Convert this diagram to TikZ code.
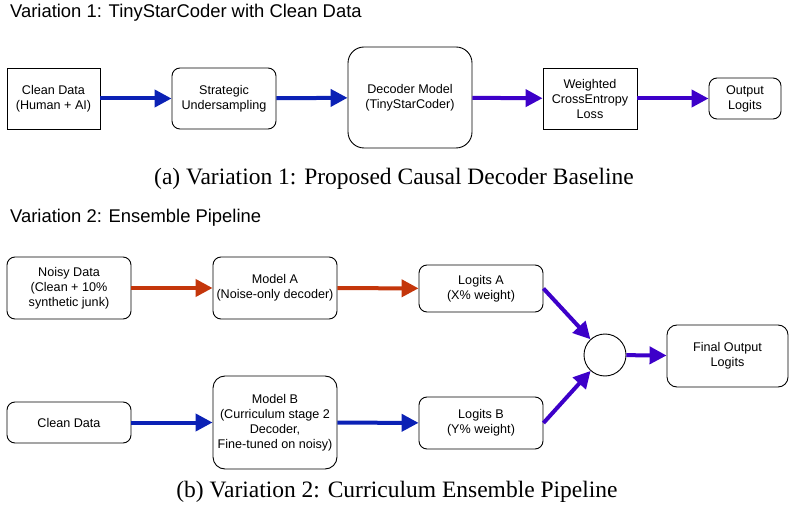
\documentclass[tikz,border=0pt]{standalone}
\usepackage{fontspec}
\setmainfont{Liberation Sans}
\newfontfamily\capfont{Liberation Serif}
\usetikzlibrary{arrows.meta}
\definecolor{flowblue}{HTML}{0B21B5}
\definecolor{flowpurple}{HTML}{3D00C9}
\definecolor{flowred}{HTML}{C4360B}
\tikzset{
  box/.style={draw=black, line width=0.9pt, align=center, inner sep=0pt,
    font=\fontsize{12.6}{15}\selectfont},
  rbox/.style={box, rounded corners=8pt},
  flow/.style={line width=4pt, -{Triangle[length=17pt,width=17pt]}},
  heading/.style={anchor=base west, inner sep=0pt, font=\fontsize{18.4}{22}\selectfont},
  caption/.style={anchor=base, inner sep=0pt, font=\capfont\fontsize{23.5}{28}\selectfont},
}
\begin{document}
\begin{tikzpicture}[x=1pt,y=-1pt]
\useasboundingbox (0,0) rectangle (789,510);

% ---- Variation 1 ----
\node[heading] (t1) at (10,18) {Variation 1: TinyStarCoder with Clean Data};

\node[box, minimum width=93, minimum height=61] (a1) at (53.5,98.5) {Clean Data\\(Human + AI)};
\node[rbox, minimum width=104, minimum height=61] (a2) at (224,98.5) {Strategic\\Undersampling};
\node[box, rounded corners=16pt, minimum width=124, minimum height=101] (a3) at (410,97.5) {Decoder Model\\(TinyStarCoder)};
\node[box, minimum width=94, minimum height=61] (a4) at (590,98.5) {Weighted\\CrossEntropy\\Loss};
\node[rbox, minimum width=72, minimum height=41] (a5) at (745,98.5) {Output\\Logits};

\draw[flow, flowblue] (a1) -- (a2);
\draw[flow, flowblue] (a2) -- (a3);
\draw[flow, flowpurple] (a3) -- (a4);
\draw[flow, flowpurple] (a4) -- (a5);

\node[caption] (c1) at (394,185) {(a) Variation 1: Proposed Causal Decoder Baseline};

% ---- Variation 2 ----
\node[heading] (t2) at (10,223) {Variation 2: Ensemble Pipeline};

\node[rbox, minimum width=124, minimum height=62] (b1) at (69,288) {Noisy Data\\(Clean + 10\%\\synthetic junk)};
\node[rbox, minimum width=124, minimum height=62] (b2) at (275,288) {Model A\\(Noise-only decoder)};
\node[rbox, minimum width=124, minimum height=41] (b3) at (69,422.5) {Clean Data};
\node[box, rounded corners=12pt, minimum width=124, minimum height=93] (b4) at (275,422.5) {Model B\\(Curriculum stage 2\\Decoder,\\Fine-tuned on noisy)};
\node[rbox, minimum width=124, minimum height=47] (b5) at (481,288.5) {Logits A\\(X\% weight)};
\node[rbox, minimum width=124, minimum height=52] (b6) at (481,423) {Logits B\\(Y\% weight)};
\node[draw=black, line width=0.9pt, circle, minimum size=42, inner sep=0pt] (mix) at (605,355) {};
\node[box, rounded corners=10pt, minimum width=121, minimum height=62] (b7) at (727.5,356) {Final Output\\Logits};

\draw[flow, flowred] (b1) -- (b2);
\draw[flow, flowred] (b2) -- (b5);
\draw[flow, flowblue] (b3) -- (b4);
\draw[flow, flowblue] (b4) -- (b6);
\draw[flow, flowpurple] (b5.east) -- (mix);
\draw[flow, flowpurple] (b6.east) -- (mix);
\draw[flow, flowpurple] (mix) -- (b7);

\node[caption] (c2) at (397,497) {(b) Variation 2: Curriculum Ensemble Pipeline};
\end{tikzpicture}
\end{document}
